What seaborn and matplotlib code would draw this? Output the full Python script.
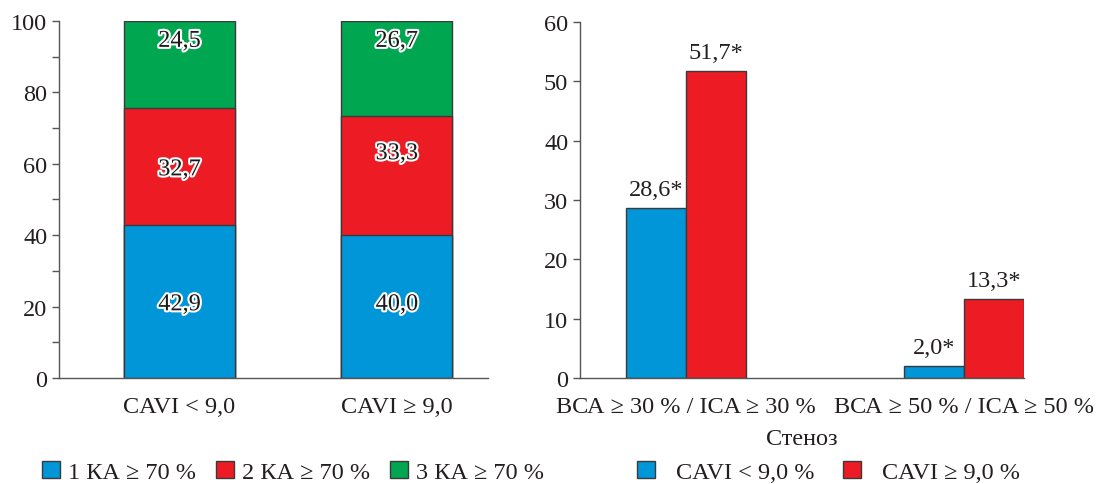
import numpy as np
import pandas as pd
import matplotlib
matplotlib.use('Agg')
import matplotlib.pyplot as plt
import matplotlib.patheffects as pe
from matplotlib.patches import Patch
import seaborn as sns

# left panel: share of patients by number of coronary arteries with stenosis >= 70 %
cavi_groups = ['CAVI < 9,0', 'CAVI ≥ 9,0']
ka_labels = ['1 КА ≥ 70 %', '2 КА ≥ 70 %', '3 КА ≥ 70 %']
ka_values = {
    '1 КА ≥ 70 %': [42.9, 40.0],
    '2 КА ≥ 70 %': [32.7, 33.3],
    '3 КА ≥ 70 %': [24.5, 26.7],
}

# right panel: carotid / brachiocephalic stenosis
stenosis_cats = ['ВСА ≥ 30 % / ICA ≥ 30 %', 'ВСА ≥ 50 % / ICA ≥ 50 %']
cavi_legend = ['CAVI < 9,0 %', 'CAVI ≥ 9,0 %']
cavi_low = [28.6, 2.0]
cavi_high = [51.7, 13.3]

BLUE, RED, GREEN = '#0096d8', '#ed1c24', '#00a650'
EDGE = '#3a3a3a'
TXT = '#231f20'
FS = 17.5

sns.set_style('ticks')
plt.rcParams['font.family'] = 'serif'
plt.rcParams['font.serif'] = ['Liberation Serif', 'DejaVu Serif']
plt.rcParams['font.size'] = FS
plt.rcParams['text.color'] = TXT
plt.rcParams['axes.labelcolor'] = TXT
plt.rcParams['xtick.color'] = '#555555'
plt.rcParams['ytick.color'] = '#555555'
plt.rcParams['xtick.labelcolor'] = TXT
plt.rcParams['ytick.labelcolor'] = TXT

fig = plt.figure(figsize=(10.97, 4.85), dpi=100)
ax1 = fig.add_axes([0.0538, 0.2186, 0.391, 0.736])
ax2 = fig.add_axes([0.5287, 0.2186, 0.4047, 0.734])

# ---- left: stacked bars (draw cumulative totals back to front)
df_left = pd.DataFrame(ka_values, index=cavi_groups)
cum = df_left.cumsum(axis=1)
colors_left = [BLUE, RED, GREEN]
for lab, col in reversed(list(zip(ka_labels, colors_left))):
    sns.barplot(x=cavi_groups, y=cum[lab].values, color=col, width=0.51,
                edgecolor=EDGE, linewidth=1.0, saturation=1, ax=ax1)

# label heights inside segments (as placed in the original)
label_y = [[20.5, 58.3, 94.3], [20.5, 62.8, 94.3]]
for i, g in enumerate(cavi_groups):
    for j, lab in enumerate(ka_labels):
        txt = f"{df_left.loc[g, lab]:.1f}".replace('.', ',')
        ax1.text(i, label_y[i][j], txt, ha='center', va='center', fontsize=FS,
                 color='#1a1a1a',
                 path_effects=[pe.withStroke(linewidth=3, foreground='white')])

ax1.set_ylim(0, 100)
ax1.set_xlim(-0.555, 1.42)
ax1.set_yticks(np.arange(0, 101, 20))
ax1.set_yticks(np.arange(10, 100, 20), minor=True)
ax1.tick_params(axis='y', which='both', length=5, width=1, direction='out')
ax1.tick_params(axis='x', length=0, pad=13)
ax1.set_xlabel('')
sns.despine(ax=ax1)

# ---- right: grouped bars
df_right = pd.DataFrame({
    'cat': stenosis_cats * 2,
    'group': [cavi_legend[0]] * 2 + [cavi_legend[1]] * 2,
    'val': cavi_low + cavi_high,
})
sns.barplot(data=df_right, x='cat', y='val', hue='group', palette=[BLUE, RED],
            width=0.432, edgecolor=EDGE, linewidth=1.0, saturation=1,
            legend=False, ax=ax2)
for cont in ax2.containers:
    ax2.bar_label(cont, labels=[f"{v:.1f}*".replace('.', ',') for v in cont.datavalues],
                  padding=6, fontsize=FS)

ax2.set_ylim(0, 60)
ax2.set_xlim(-0.381, 1.216)
ax2.set_yticks(np.arange(0, 61, 10))
ax2.tick_params(axis='y', length=5, width=1, direction='out')
ax2.tick_params(axis='x', length=0, pad=13)
ax2.set_xlabel('Стеноз', fontsize=FS, labelpad=8)
ax2.set_ylabel('')
sns.despine(ax=ax2)

for ax in (ax1, ax2):
    for s in ('left', 'bottom'):
        ax.spines[s].set_color('#555555')
        ax.spines[s].set_linewidth(1.0)

# legends
h_left = [Patch(facecolor=c, edgecolor=EDGE, label=l) for c, l in zip(colors_left, ka_labels)]
fig.legend(handles=h_left, loc='center left', bbox_to_anchor=(0.0383, 0.025), ncol=3,
           frameon=False, fontsize=FS, handlelength=0.75, handleheight=0.75,
           handletextpad=0.33, columnspacing=0.8, borderpad=0, borderaxespad=0)
h_right = [Patch(facecolor=c, edgecolor=EDGE, label=l) for c, l in zip([BLUE, RED], cavi_legend)]
fig.legend(handles=h_right, loc='center left', bbox_to_anchor=(0.5807, 0.025), ncol=2,
           frameon=False, fontsize=FS, handlelength=0.75, handleheight=0.75,
           handletextpad=0.86, columnspacing=1.15, borderpad=0, borderaxespad=0)

fig.savefig('out.png', dpi=100)
